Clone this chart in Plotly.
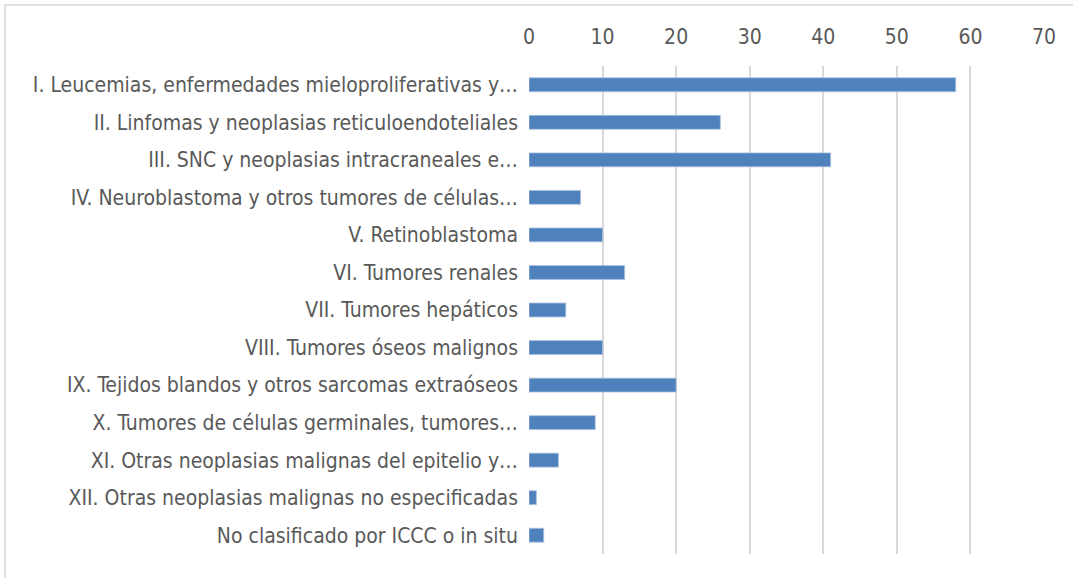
import plotly.graph_objects as go

categories = [
    "I. Leucemias, enfermedades mieloproliferativas y…",
    "II. Linfomas y neoplasias reticuloendoteliales",
    "III. SNC y neoplasias intracraneales e…",
    "IV. Neuroblastoma y otros tumores de células…",
    "V. Retinoblastoma",
    "VI. Tumores renales",
    "VII. Tumores hepáticos",
    "VIII. Tumores óseos malignos",
    "IX. Tejidos blandos y otros sarcomas extraóseos",
    "X. Tumores de células germinales, tumores…",
    "XI. Otras neoplasias malignas del epitelio y…",
    "XII. Otras neoplasias malignas no especificadas",
    "No clasificado por ICCC o in situ",
]
values = [58, 26, 41, 7, 10, 13, 5, 10, 20, 9, 4, 1, 2]
x_ticks = [0, 10, 20, 30, 40, 50, 60, 70]

W, H = 1073, 578
L, R, T, B = 529, 29, 66, 24
font = "'DejaVu Sans Condensed', 'Liberation Sans Narrow', sans-serif"

fig = go.Figure(go.Bar(
    x=values, y=categories, orientation="h",
    marker=dict(color="#4f81bd", line=dict(color="#a9c1e0", width=0.8)),
    width=0.37,
))

pw = W - L - R
ph = H - T - B
fig.update_layout(
    width=W, height=H,
    margin=dict(l=L, r=R, t=T, b=B),
    plot_bgcolor="white", paper_bgcolor="white",
    font=dict(family=font, size=21, color="#595959"),
    showlegend=False,
    xaxis=dict(
        side="top", range=[0, 70], tickvals=x_ticks,
        showgrid=True, gridcolor="#d9d9d9", gridwidth=1.5,
        zeroline=False, showline=False, ticks="",
        ticklabelstandoff=17, tickfont=dict(size=21),
        fixedrange=True,
    ),
    yaxis=dict(
        autorange="reversed", showgrid=False, zeroline=False,
        showline=False, ticks="", ticklabelstandoff=10,
        fixedrange=True,
    ),
    shapes=[dict(
        type="rect", xref="paper", yref="paper",
        x0=(5 - L) / pw, x1=(W + 5 - L) / pw,
        y0=-(B + 10) / ph, y1=1 + (T - 5) / ph,
        line=dict(color="#d9d9d9", width=1.5), fillcolor="rgba(0,0,0,0)",
        layer="below",
    )],
)

fig.write_html("out.html", config={"displayModeBar": False},
               post_script="document.body.style.margin='0px';")
